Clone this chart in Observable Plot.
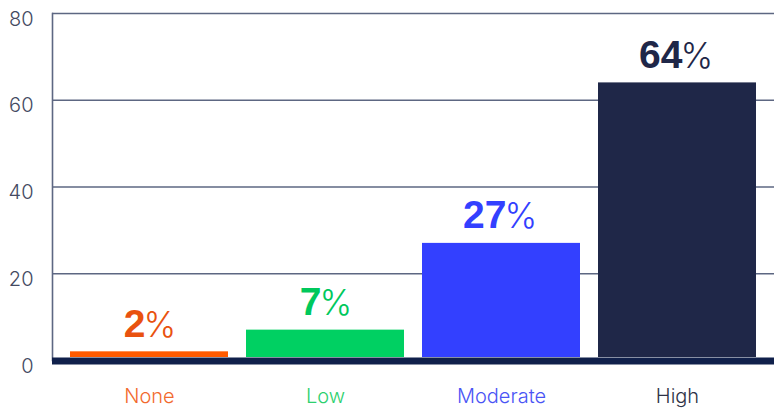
<!DOCTYPE html>
<html>
<head>
<meta charset="utf-8">
<script src="https://cdn.jsdelivr.net/npm/d3@7"></script>
<script src="https://cdn.jsdelivr.net/npm/@observablehq/plot@0.6"></script>
<style>
  html, body { margin: 0; padding: 0; background: #ffffff; }
</style>
</head>
<body>
<div id="chart"></div>
<script>
// Share of respondents by level
const levels = ["None", "Low", "Moderate", "High"];
const shares = [2, 7, 27, 64];
const barColors = ["#ff5a00", "#00d062", "#3340ff", "#1f2748"];
const valueColors = ["#e9520f", "#00c85c", "#3340ff", "#1f2748"];
const nameColors = ["#f26a2e", "#2ed06e", "#4a54f5", "#2e3246"];
const yTicks = [0, 20, 40, 60, 80];

const rows = levels.map((level, i) => ({
  level,
  share: shares[i],
  bar: barColors[i],
  value: valueColors[i],
  name: nameColors[i]
}));

const gridColor = "#5d6782";
const tickColor = "#444a62";

// value labels: bold number followed by a light percent sign, centred over each bar
function valueLabel(subset, shift) {
  return [
    Plot.text(subset, {
      x: "level", y: "share", text: d => String(d.share),
      fill: "value", textAnchor: "end", lineAnchor: "bottom",
      dx: shift, dy: -15,
      fontFamily: "Liberation Sans", fontWeight: 700, fontSize: 39
    }),
    Plot.text(subset, {
      x: "level", y: "share", text: () => "%",
      fill: "value", textAnchor: "start", lineAnchor: "bottom",
      dx: shift - 2, dy: -15,
      fontFamily: "Inter", fontWeight: 300, fontSize: 35
    })
  ];
}

const chart = Plot.plot({
  width: 774,
  height: 410,
  marginLeft: 52,
  marginRight: 0,
  marginTop: 13,
  marginBottom: 50,
  style: { fontFamily: "Inter", background: "#ffffff", overflow: "visible" },
  x: { domain: levels, padding: 0.1, axis: null },
  y: { domain: [0, 80], axis: null },
  marks: [
    Plot.ruleY(yTicks, { stroke: gridColor, strokeWidth: 1.4 }),
    Plot.frame({ anchor: "left", stroke: gridColor, strokeWidth: 1.6 }),
    Plot.text(yTicks, {
      y: d => d, text: d => String(d), frameAnchor: "left",
      textAnchor: "end", lineAnchor: "bottom", dx: -19, dy: 12,
      fill: tickColor, fontSize: 20, fontWeight: 300
    }),
    Plot.barY(rows, { x: "level", y: "share", fill: "bar", insetBottom: 3 }),
    Plot.ruleY([0], { stroke: "#10204b", strokeWidth: 7, dy: 0.5 }),
    ...valueLabel(rows.filter(d => d.share < 10), -4),
    ...valueLabel(rows.filter(d => d.share >= 10), 5),
    Plot.text(rows, {
      x: "level", text: "level", frameAnchor: "bottom",
      lineAnchor: "bottom", dy: 42,
      fill: "name", fontSize: 20, fontWeight: 300
    })
  ]
});

document.getElementById("chart").appendChild(chart);
</script>
</body>
</html>
